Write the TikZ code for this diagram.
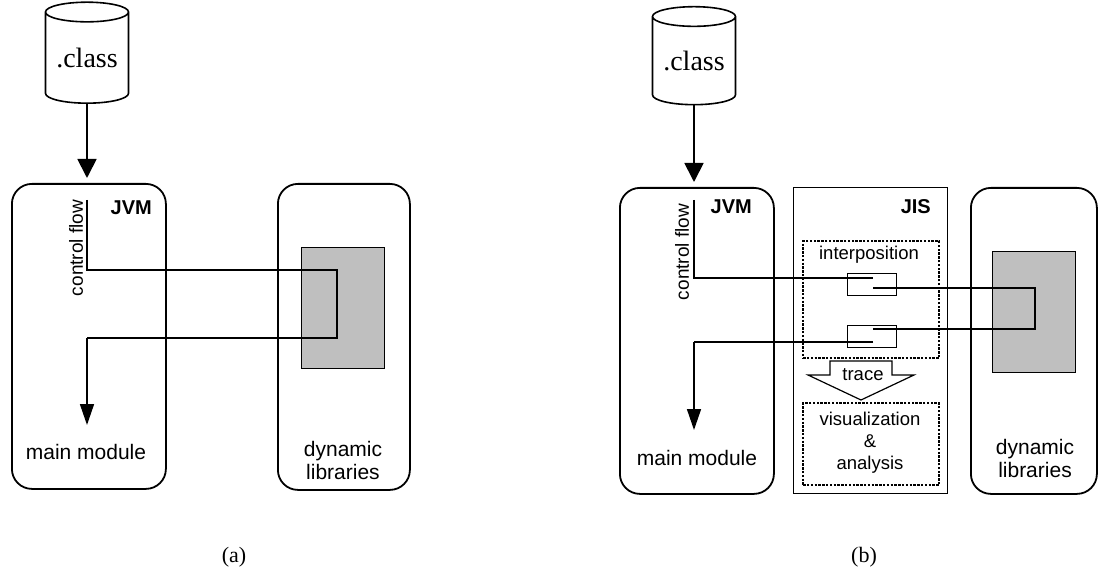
\documentclass[tikz,border=0pt]{standalone}
\usepackage{fontspec}
\setmainfont{Liberation Serif}
\setsansfont{Liberation Sans}
\usetikzlibrary{calc, positioning, arrows.meta, shapes.geometric}

\begin{document}
\begin{tikzpicture}[x=1pt, y=-1pt,
    store/.style={cylinder, shape border rotate=90, draw, line width=1.6pt, aspect=0.32,
      minimum width=83pt, minimum height=101pt, inner sep=0pt,
      font=\fontsize{28}{30}\selectfont},
    module/.style={draw, line width=1.8pt, rounded corners=20pt, anchor=north west, inner sep=0pt},
    jisbox/.style={draw, line width=1.4pt, anchor=north west, inner sep=0pt},
    core/.style={draw, line width=1.3pt, fill=black!25, anchor=north west, inner sep=0pt},
    probe/.style={draw, line width=1.2pt, anchor=north west, inner sep=0pt},
    dotbox/.style={draw, line width=2.4pt, dash pattern=on 2.4pt off 1.4pt, anchor=north west, inner sep=0pt},
    flow/.style={line width=1.2pt},
    feed/.style={line width=1.8pt, -{Triangle[length=19pt, width=19pt]}, shorten >=5pt},
    ret/.style={line width=1.6pt, -{Triangle[length=21pt, width=14pt]}},
    lbl/.style={font=\sffamily\fontsize{21}{23}\selectfont, align=center, inner sep=0pt},
    small/.style={font=\sffamily\fontsize{18.5}{22}\selectfont, align=center, inner sep=0pt},
    tag/.style={font=\sffamily\bfseries\fontsize{20}{22}\selectfont, inner sep=0pt},
    caption/.style={font=\fontsize{22}{24}\selectfont, inner sep=0pt}]

    \useasboundingbox (0,0) rectangle (1098,585);

    % ---------------- (a) ----------------
    \node[store] (clsA) at (87,58) {.class};
    \node[module, minimum width=154pt, minimum height=305pt] (jvmA) at (11,183) {};
    \node[module, minimum width=132pt, minimum height=306pt] (libA) at (277,183) {};
    \node[core, minimum width=83pt, minimum height=121pt] (coreA) at (301,247) {};
    \draw[feed] (clsA.south) -- (clsA.south |- jvmA.north);

    \node[tag, anchor=east] (jvmtagA) at (152,208) {JVM};
    \node[font=\sffamily\fontsize{19}{21}\selectfont, rotate=90, inner sep=0pt] (cflowA) at (76,248) {control flow};
    \node[lbl] (mainA) at (86,452) {main module};
    \node[lbl] (dynA) at (343,460) {dynamic\\libraries};

    % control flow through the library
    \coordinate (startA) at (87,200);
    \coordinate (callA) at (337,270);
    \coordinate (retA) at (337,338);
    \coordinate (endA) at (87,425);
    \draw[flow] (startA) |- (callA) -- (retA) -- (retA -| endA);
    \draw[ret] (retA -| endA) -- (endA);

    \node[caption] (capA) at (234,557) {(a)};

    % ---------------- (b) ----------------
    \node[store, minimum height=98pt] (clsB) at (694,61) {.class};
    \node[module, minimum width=154pt, minimum height=306pt] (jvmB) at (619,187) {};
    \node[jisbox, minimum width=154pt, minimum height=306pt] (jisB) at (793,187) {};
    \node[module, minimum width=126pt, minimum height=306pt] (libB) at (970,187) {};
    \node[core, minimum width=83pt, minimum height=121pt] (coreB) at (992,251) {};
    \draw[feed] (clsB.south) -- (clsB.south |- jvmB.north);

    \node[tag, anchor=east] (jvmtagB) at (752,207) {JVM};
    \node[tag, anchor=east] (jistag) at (931,207) {JIS};
    \node[font=\sffamily\fontsize{19}{21}\selectfont, rotate=90, inner sep=0pt] (cflowB) at (682,252) {control flow};
    \node[lbl] (mainB) at (697,458) {main module};
    \node[lbl] (dynB) at (1035,458) {dynamic\\libraries};

    % interposition layer
    \node[dotbox, minimum width=136pt, minimum height=117pt] (interp) at (802,240) {};
    \node[small] (interptxt) at (869,255) {interposition};
    \node[probe, minimum width=49pt, minimum height=22pt] (probeIn) at (847,273) {};
    \node[probe, minimum width=49pt, minimum height=22pt] (probeOut) at (847,325) {};

    % trace arrow
    \draw[line width=1.2pt] (830,361) -- (892,361) -- (892,375) -- (914,375)
      -- (861,400) -- (808,375) -- (830,375) -- cycle;
    \node[small] (trace) at (863,375) {trace};

    \node[dotbox, minimum width=136pt, minimum height=82pt] (vis) at (802,402) {};
    \node[small] (vistxt) at (870,443) {visualization\\\&\\analysis};

    % control flow through JIS and the library
    \coordinate (startB) at (694,200);
    \coordinate (inB) at (873,278);
    \coordinate (outB) at (873,288);
    \coordinate (callB) at (1035,288);
    \coordinate (retB) at (1035,329);
    \coordinate (backB) at (873,329);
    \coordinate (resB) at (873,342);
    \coordinate (endB) at (694,430);
    \draw[flow] (startB) |- (inB);
    \draw[flow] (outB) -- (callB) -- (retB) -- (backB);
    \draw[flow] (resB) -- (resB -| endB);
    \draw[ret] (resB -| endB) -- (endB);

    \node[caption] (capB) at (864,557) {(b)};
\end{tikzpicture}
\end{document}
